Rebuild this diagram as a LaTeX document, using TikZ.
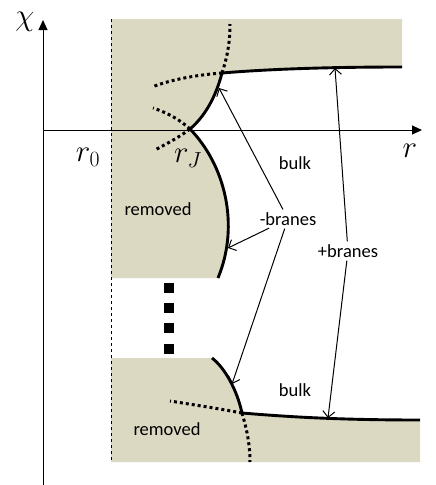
\RequirePackage{fix-cm}
\documentclass[tikz,border=0pt]{standalone}
\usepackage{fontspec}
\setsansfont{Carlito}
\usetikzlibrary{arrows.meta}
\definecolor{removedtan}{RGB}{220,217,195}
\tikzset{
	brane/.style={line width=2.9pt},
	extension/.style={line width=3pt, dash pattern=on 3pt off 3pt},
	pointer/.style={-{Straight Barb[length=6pt,width=12pt]}, line width=1pt, shorten <=1pt},
	axis/.style={-{Triangle[length=10pt,width=9pt]}, line width=1pt},
	regionlabel/.style={font=\sffamily\fontsize{18.5}{21}\selectfont, inner sep=2pt},
	mathlabel/.style={font=\fontsize{31}{36}\selectfont, inner sep=0pt}
}
\newcommand{\drawDot}[1]{
	\node[fill=black, minimum size=10pt, inner sep=0pt] (dot#1) at (169,#1) {};
}
\begin{document}
\begin{tikzpicture}[x=1pt,y=-1pt]
	\useasboundingbox (0,0) rectangle (436,485);

	\coordinate (J_U) at (222,73);
	\coordinate (R_J) at (190,129);
	\coordinate (J_L) at (242,413);

	% removed regions
	\fill[removedtan] (111,19) -- (402,19) -- (402,67)
		.. controls (330,67) and (270,69) .. (J_U)
		.. controls (215,100) and (203,118) .. (R_J)
		.. controls (225,165) and (240,225) .. (218,278)
		-- (111,278) -- cycle;
	\fill[removedtan] (111,358) -- (212,358)
		.. controls (225,368) and (237,390) .. (J_L)
		.. controls (290,417) and (340,420) .. (420,420)
		-- (420,462) -- (111,462) -- cycle;

	% axes
	\draw[dashed, line width=0.6pt] (111,19) -- (111,462);
	\coordinate (O) at (43,130);
	\coordinate (XEND) at (422,130);
	\coordinate (YEND) at (43,20);
	\draw[axis] (43,485) -- (YEND);
	\draw[axis] (O) -- (XEND);

	% branes
	\draw[brane] (402,67) .. controls (330,67) and (270,69) .. (J_U)
		.. controls (215,100) and (203,118) .. (R_J)
		.. controls (225,165) and (240,225) .. (218,278);
	\draw[brane] (212,358) .. controls (225,368) and (237,390) .. (J_L)
		.. controls (290,417) and (340,420) .. (420,420);

	% continuations
	\draw[extension] (J_U) .. controls (228,55) and (230,40) .. (230,24);
	\draw[extension] (J_U) .. controls (195,75) and (170,80) .. (152,87);
	\draw[extension] (R_J) .. controls (178,118) and (165,112) .. (153,108);
	\draw[extension] (R_J) .. controls (178,138) and (166,144) .. (155,150);
	\draw[extension] (J_L) .. controls (215,408) and (195,405) .. (170,401);
	\draw[extension] (J_L) .. controls (247,430) and (250,445) .. (250,462);

	\drawDot{288}
	\drawDot{308}
	\drawDot{328}
	\drawDot{349}

	% labels
	\node[mathlabel] (chi) at (25,22) {$\chi$};
	\node[mathlabel] (rlab) at (410,151) {$r$};
	\node[mathlabel] (r0) at (88,157) {$r_0$};
	\node[mathlabel] (rJ) at (188,158) {$r_J$};
	\node[regionlabel] (removedU) at (158,209) {removed};
	\node[regionlabel] (removedL) at (167,429) {removed};
	\node[regionlabel] (bulkU) at (295,163) {bulk};
	\node[regionlabel] (bulkL) at (295,390) {bulk};
	\node[regionlabel] (minus) at (288,219) {-branes};
	\node[regionlabel] (plus) at (348,251) {+branes};

	% pointers
	\coordinate (AR0) at (219,88);
	\coordinate (AR1) at (228,248);
	\coordinate (AR2) at (232,384);
	\coordinate (AR3) at (335,68);
	\coordinate (AR4) at (328,418);
	\draw[pointer] (minus) -- (AR0);
	\draw[pointer] (minus) -- (AR1);
	\draw[pointer] (minus) -- (AR2);
	\draw[pointer] (plus) -- (AR3);
	\draw[pointer] (plus) -- (AR4);
\end{tikzpicture}
\end{document}
